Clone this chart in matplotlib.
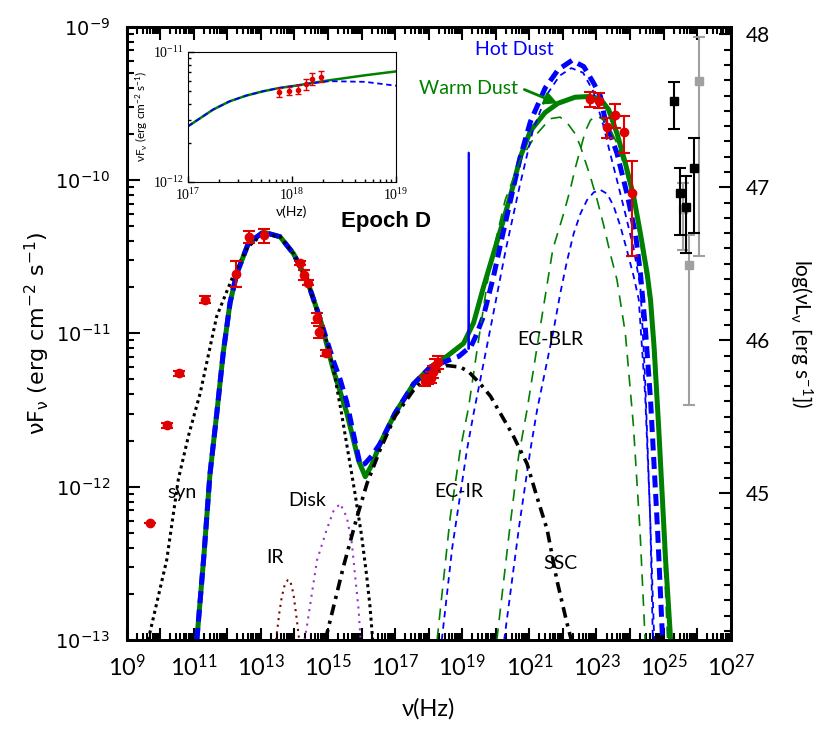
import numpy as np
import matplotlib.pyplot as plt
from matplotlib.ticker import FixedLocator, FixedFormatter, LogLocator, NullFormatter, MultipleLocator

plt.rcParams['font.family'] = ['Lato', 'DejaVu Sans']
plt.rcParams['mathtext.default'] = 'regular'

# all curves as log10(nu [Hz]) / log10(nuFnu [erg cm^-2 s^-1])
syn_nu = [9.64, 10.19, 10.54, 10.85, 11.19, 11.68, 12.18, 12.6, 13.07, 13.57, 13.97, 14.37, 14.77,
          15.0, 15.2, 15.4, 15.6, 15.8, 16.0, 16.15, 16.25, 16.33]
syn_f = [-13.0, -12.48, -11.95, -11.66, -11.39, -10.89, -10.62, -10.44, -10.35, -10.37, -10.48, -10.65, -10.92,
         -11.08, -11.28, -11.52, -11.78, -12.04, -12.32, -12.58, -12.78, -13.0]

ir_nu = [13.45, 13.55, 13.62, 13.72, 13.8, 13.87, 13.97, 14.07, 14.14]
ir_f = [-13.0, -12.82, -12.72, -12.63, -12.61, -12.61, -12.70, -12.87, -13.0]

disk_nu = [14.3, 14.37, 14.67, 14.96, 15.16, 15.36, 15.56, 15.71, 15.81, 15.91, 15.97]
disk_f = [-13.0, -12.91, -12.48, -12.28, -12.16, -12.11, -12.20, -12.37, -12.59, -12.80, -13.0]

ssc_nu = [14.92, 15.46, 15.86, 16.16, 16.55, 17.0, 17.55, 18.05, 18.54, 18.94, 19.19, 19.54, 19.84,
          20.13, 20.5, 20.93, 21.23, 21.53, 21.82, 22.12, 22.25]
ssc_f = [-13.0, -12.52, -12.20, -11.98, -11.76, -11.54, -11.37, -11.26, -11.21, -11.22, -11.25, -11.33, -11.41,
         -11.52, -11.66, -11.85, -12.07, -12.28, -12.61, -12.89, -13.0]

# external Compton, warm dust model (green) and hot dust model (blue)
ecir_w_nu = [18.25, 18.64, 18.94, 19.19, 19.44, 19.83, 20.28, 20.73, 21.18, 21.62, 21.92, 22.17, 22.37, 22.52,
             22.82, 23.02, 23.22, 23.41, 23.61, 23.86, 24.1, 24.3, 24.45]
ecir_w_f = [-13.0, -12.20, -11.76, -11.48, -11.11, -10.55, -10.13, -9.87, -9.71, -9.60, -9.59, -9.64, -9.70, -9.78,
            -9.98, -10.13, -10.30, -10.48, -10.65, -11.0, -11.6, -12.3, -13.0]
ecblr_w_nu = [20.03, 20.4, 20.68, 20.93, 21.33, 21.7, 22.02, 22.22, 22.37, 22.52, 22.67, 22.82, 23.0, 23.3,
              23.61, 23.86, 24.11, 24.31, 24.51, 24.61, 24.85, 25.0, 25.12]
ecblr_w_f = [-13.0, -12.3, -11.8, -11.5, -10.95, -10.45, -10.22, -10.06, -9.92, -9.80, -9.68, -9.61, -9.58, -9.62,
             -9.76, -9.93, -10.15, -10.40, -10.68, -10.85, -11.7, -12.4, -13.0]
ecir_h_nu = [18.39, 18.7, 19.14, 19.34, 19.54, 19.9, 20.3, 20.7, 21.1, 21.5, 21.9, 22.25, 22.6, 22.9, 23.2,
             23.4, 23.61, 23.86, 24.11, 24.31, 24.45, 24.6, 24.68]
ecir_h_f = [-13.0, -12.4, -11.76, -11.52, -11.30, -10.90, -10.45, -10.05, -9.68, -9.45, -9.32, -9.27, -9.30, -9.42,
            -9.64, -9.82, -10.0, -10.22, -10.45, -10.7, -11.3, -12.2, -13.0]
ecblr_h_nu = [20.25, 20.7, 21.03, 21.23, 21.72, 21.92, 22.12, 22.32, 22.52, 22.72, 22.92, 23.12, 23.32, 23.51,
              23.71, 23.91, 24.11, 24.26, 24.45, 24.6, 24.72]
ecblr_h_f = [-13.0, -12.25, -11.76, -11.50, -10.98, -10.74, -10.53, -10.35, -10.22, -10.13, -10.08, -10.065, -10.09,
             -10.17, -10.30, -10.46, -10.63, -10.78, -11.4, -12.2, -13.0]

# total model, warm dust (green solid)
warm_nu = [11.09, 11.3, 11.48, 11.68, 11.88, 12.08, 12.28, 12.63, 13.07, 13.57, 13.97, 14.37, 14.77, 15.16,
           15.56, 15.91, 16.11, 16.3, 16.55, 17.0, 17.55, 18.05, 18.54, 19.04, 19.34, 19.63, 19.93, 20.23, 20.5,
           20.73, 21.03, 21.47, 21.85, 22.36, 22.8, 23.11, 23.36, 23.61, 23.86, 24.11, 24.31, 24.51, 24.61, 24.72,
           24.85, 25.06, 25.21]
warm_f = [-13.0, -12.45, -11.92, -11.53, -11.12, -10.80, -10.61, -10.41, -10.34, -10.37, -10.48, -10.65,
          -10.91, -11.24, -11.52, -11.83, -11.935, -11.86, -11.72, -11.52, -11.33, -11.22, -11.15, -11.065, -10.93,
          -10.70, -10.48, -10.26, -10.05, -9.85, -9.68, -9.56, -9.50, -9.46, -9.455, -9.47, -9.54, -9.695, -9.89,
          -10.11, -10.35, -10.61, -10.78, -11.10, -11.60, -12.48, -13.0]

# total model, hot dust (blue dashed)
hot_nu = [11.09, 11.3, 11.48, 11.68, 11.88, 12.08, 12.28, 12.63, 13.07, 13.57, 13.97, 14.37, 14.77, 15.0,
          15.16, 15.36, 15.56, 15.8, 15.96, 16.1, 16.3, 16.55, 17.0, 17.55, 18.05, 18.54, 18.9, 19.17, 19.25, 19.4,
          19.63, 19.93, 20.18, 20.44, 20.73, 21.03, 21.47, 21.86, 22.27, 22.62, 22.92, 23.12, 23.26, 23.61, 23.91,
          24.16, 24.31, 24.45, 24.61, 24.82, 24.97]
hot_f = [-13.0, -12.45, -11.92, -11.53, -11.12, -10.80, -10.61, -10.41, -10.34, -10.37, -10.48, -10.65,
         -10.91, -11.07, -11.18, -11.30, -11.45, -11.70, -11.86, -11.85, -11.80, -11.72, -11.52, -11.33, -11.22,
         -11.18, -11.15, -11.10, -11.09, -11.02, -10.89, -10.63, -10.38, -10.13, -9.85, -9.62, -9.40, -9.28, -9.22,
         -9.26, -9.37, -9.455, -9.61, -9.825, -10.09, -10.35, -10.61, -10.95, -11.43, -12.28, -13.0]

spike_nu = [19.175, 19.19, 19.205]
spike_f = [-11.10, -9.82, -11.10]

# observed points: log nu, log nuFnu, lower / upper error (dex)
opt_nu = [9.70, 10.19, 10.56, 11.34, 12.26, 12.65, 13.09, 14.15, 14.27, 14.39, 14.68, 14.74, 14.93]
opt_f = [-12.235, -11.60, -11.26, -10.78, -10.61, -10.37, -10.36, -10.54, -10.62, -10.67, -10.90, -10.99, -11.13]
opt_lo = [0.0, 0.015, 0.015, 0.025, 0.09, 0.04, 0.05, 0.015, 0.03, 0.015, 0.035, 0.04, 0.02]
opt_hi = [0.0, 0.015, 0.015, 0.025, 0.08, 0.04, 0.04, 0.015, 0.03, 0.015, 0.035, 0.04, 0.02]

xray_nu = [17.875, 17.97, 18.06, 18.13, 18.19, 18.28]
xray_f = [-11.31, -11.30, -11.29, -11.25, -11.21, -11.19]
xray_err = [0.035, 0.03, 0.035, 0.04, 0.045, 0.045]

lat_nu = [22.80, 23.07, 23.32, 23.56, 23.81, 24.06]
lat_f = [-9.473, -9.482, -9.656, -9.577, -9.684, -10.082]
lat_lo = [0.05, 0.05, 0.069, 0.083, 0.139, 0.413]
lat_hi = [0.05, 0.05, 0.061, 0.073, 0.102, 0.207]

tev_nu = [25.30, 25.50, 25.68, 25.90]
tev_f = [-9.486, -10.086, -10.173, -9.923]
tev_lo = [0.183, 0.272, 0.303, 0.422]
tev_hi = [0.128, 0.165, 0.200, 0.198]

tev2_nu = [25.57, 25.75, 26.07]
tev2_f = [-10.19, -10.554, -9.354]
tev2_lo = [0.266, 0.913, 1.141]
tev2_hi = [0.171, 0.196, 0.286]

# inset (X-ray zoom)
ins_nu = [17.0, 17.24, 17.40, 17.56, 17.72, 17.88, 18.04, 18.20, 18.36, 18.7, 19.0]
ins_warm = [-11.572, -11.444, -11.38, -11.336, -11.303, -11.277, -11.259, -11.238, -11.218, -11.18, -11.15]
ins_hot = [-11.572, -11.444, -11.38, -11.336, -11.303, -11.277, -11.259, -11.24, -11.225, -11.23, -11.26]


def lin(a):
    return 10 ** np.asarray(a, dtype=float)


def errs(f, lo, hi):
    f = np.asarray(f)
    return [lin(f) - lin(f - np.asarray(lo)), lin(f + np.asarray(hi)) - lin(f)]


fig = plt.figure(figsize=(8.37, 7.31), dpi=100)
ax = fig.add_axes([0.1514, 0.1245, 0.7216, 0.839])
ax.set_xscale('log')
ax.set_yscale('log')

green = '#008000'
blue = '#0000ff'

# totals
ax.plot(lin(warm_nu), lin(warm_f), color=green, lw=3.6, solid_capstyle='butt', solid_joinstyle='round', zorder=3)
ax.plot(lin(hot_nu), lin(hot_f), color=blue, lw=3.6, dashes=(2.4, 1.3), zorder=4)
ax.plot(lin(spike_nu), lin(spike_f), color=blue, lw=1.2, zorder=4)

# components
ax.plot(lin(ecir_w_nu), lin(ecir_w_f), color=green, lw=1.2, dashes=(7, 5), zorder=5)
ax.plot(lin(ecblr_w_nu), lin(ecblr_w_f), color=green, lw=1.2, dashes=(7, 5), zorder=5)
ax.plot(lin(ecir_h_nu), lin(ecir_h_f), color=blue, lw=1.3, dashes=(3.5, 2.8), zorder=5)
ax.plot(lin(ecblr_h_nu), lin(ecblr_h_f), color=blue, lw=1.3, dashes=(3.5, 2.8), zorder=5)
ax.plot(lin(ir_nu), lin(ir_f), color='#800000', lw=1.5, dashes=(1, 2.2), zorder=5)
ax.plot(lin(disk_nu), lin(disk_f), color='#9932cc', lw=1.5, dashes=(1, 2.5), zorder=5)
ax.plot(lin(syn_nu), lin(syn_f), color='black', lw=2.2, dashes=(1, 1.2), zorder=6)
ax.plot(lin(ssc_nu), lin(ssc_f), color='black', lw=2.6, dashes=(3, 1.6, 0.9, 1.6), zorder=6)

# data
ekw = dict(fmt='o', color='#e00000', ms=6, elinewidth=1.5, capsize=4, capthick=1.5, zorder=8)
ax.errorbar(lin(opt_nu), lin(opt_f), yerr=errs(opt_f, opt_lo, opt_hi), **ekw)
ax.errorbar(lin(xray_nu), lin(xray_f), yerr=errs(xray_f, xray_err, xray_err), **ekw)
ax.errorbar(lin(lat_nu), lin(lat_f), yerr=errs(lat_f, lat_lo, lat_hi), **ekw)
ax.errorbar(lin(tev_nu), lin(tev_f), yerr=errs(tev_f, tev_lo, tev_hi), fmt='s', color='black', ms=6,
            elinewidth=1.5, capsize=4, capthick=1.5, zorder=8)
ax.errorbar(lin(tev2_nu), lin(tev2_f), yerr=errs(tev2_f, tev2_lo, tev2_hi), fmt='s', color='#a0a0a0', ms=6,
            elinewidth=1.5, capsize=4, capthick=1.5, zorder=7)

ax.set_xlim(1e9, 1e27)
ax.set_ylim(1e-13, 1e-9)

# axis ticks
xdec = list(range(9, 28))
ax.xaxis.set_major_locator(FixedLocator([10.0 ** d for d in xdec]))
ax.xaxis.set_major_formatter(FixedFormatter(
    [r'$\mathregular{10^{%d}}$' % d if d % 2 == 1 else '' for d in xdec]))
ax.xaxis.set_minor_locator(LogLocator(base=10, subs=np.arange(2, 10), numticks=40))
ax.xaxis.set_minor_formatter(NullFormatter())
ydec = [-13, -12, -11, -10, -9]
ax.yaxis.set_major_locator(FixedLocator([10.0 ** d for d in ydec]))
ax.yaxis.set_major_formatter(FixedFormatter([r'$\mathregular{10^{%d}}$' % d for d in ydec]))
ax.yaxis.set_minor_locator(LogLocator(base=10, subs=np.arange(2, 10), numticks=20))
ax.yaxis.set_minor_formatter(NullFormatter())
ax.tick_params(which='both', direction='in', top=True, right=False, width=1.5)
ax.tick_params(which='major', length=9)
ax.tick_params(which='minor', length=5)
ax.tick_params(axis='x', labelsize=17, pad=10)
ax.tick_params(axis='y', labelsize=14, labelfontfamily='DejaVu Sans', pad=12)
for s in ax.spines.values():
    s.set_linewidth(2)

ax.set_xlabel('ν(Hz)', fontsize=17, labelpad=13)
ax.set_ylabel(r'νF$_{\mathregular{ν}}$ (erg cm$^{\mathregular{-2}}$ s$^{\mathregular{-1}}$)',
              fontsize=16, family='DejaVu Sans', labelpad=2)

# luminosity axis
ax2 = ax.twinx()
ax2.set_ylim(44.04, 48.05)
ax2.yaxis.set_major_locator(MultipleLocator(1))
ax2.yaxis.set_minor_locator(MultipleLocator(0.1))
ax2.tick_params(which='both', direction='in', width=1.5, labelsize=15, pad=11)
ax2.tick_params(which='major', length=9)
ax2.tick_params(which='minor', length=5)
ax2.set_ylabel(r'log(νL$_{\mathregular{ν}}$ [erg s$^{\mathregular{-1}}$])', fontsize=15,
               rotation=270, labelpad=32)
for s in ax2.spines.values():
    s.set_linewidth(2)

# labels
tkw = dict(fontsize=14, ha='center', va='center', zorder=9)
ax.text(10 ** 10.64, 10 ** -12.04, 'syn', **tkw)
ax.text(10 ** 13.42, 10 ** -12.46, 'IR', **tkw)
ax.text(10 ** 14.37, 10 ** -12.09, 'Disk', **tkw)
ax.text(10 ** 18.89, 10 ** -12.03, 'EC-IR', **tkw)
ax.text(10 ** 21.92, 10 ** -12.50, 'SSC', **tkw)
ax.text(10 ** 21.62, 10 ** -11.04, 'EC-BLR', **tkw)
ax.text(10 ** 16.73, 10 ** -10.27, 'Epoch D', fontsize=16, fontweight='bold', family='Liberation Sans',
        ha='center', va='center')
ax.text(10 ** 20.55, 10 ** -9.15, 'Hot Dust', color=blue, **tkw)
ax.text(10 ** 19.2, 10 ** -9.40, 'Warm Dust', color=green, **tkw)
ax.annotate('', xy=(10 ** 21.84, 10 ** -9.50), xytext=(10 ** 20.85, 10 ** -9.41),
            arrowprops=dict(arrowstyle='-|>', color=green, lw=2, mutation_scale=18, shrinkA=0, shrinkB=0),
            zorder=9)

# inset
axi = fig.add_axes([0.2246, 0.751, 0.2485, 0.178])
axi.set_xscale('log')
axi.set_yscale('log')
axi.plot(lin(ins_nu), lin(ins_warm), color=green, lw=1.8)
axi.plot(lin(ins_nu), lin(ins_hot), color=blue, lw=1.3, dashes=(3, 2))
axi.errorbar(lin(xray_nu), lin(xray_f), yerr=errs(xray_f, xray_err, xray_err), fmt='o', color='#e00000',
             ms=3, elinewidth=1, capsize=2.5, capthick=1)
axi.set_xlim(1e17, 1e19)
axi.set_ylim(1e-12, 1e-11)
axi.xaxis.set_major_locator(FixedLocator([1e17, 1e18, 1e19]))
axi.xaxis.set_major_formatter(FixedFormatter([r'$\mathregular{10^{17}}$', r'$\mathregular{10^{18}}$',
                                               r'$\mathregular{10^{19}}$']))
axi.xaxis.set_minor_formatter(NullFormatter())
axi.yaxis.set_major_locator(FixedLocator([1e-12, 1e-11]))
axi.yaxis.set_major_formatter(FixedFormatter([r'$\mathregular{10^{-12}}$', r'$\mathregular{10^{-11}}$']))
axi.yaxis.set_minor_formatter(NullFormatter())
axi.tick_params(which='both', direction='in', labelsize=10, labelfontfamily='Liberation Serif', width=1)
axi.tick_params(which='major', length=4)
axi.tick_params(which='minor', length=2.5)
axi.set_xlabel('ν(Hz)', fontsize=10, labelpad=2)
axi.set_ylabel(r'νF$_{\mathregular{ν}}$ (erg cm$^{\mathregular{-2}}$ s$^{\mathregular{-1}}$)', fontsize=8.5,
               labelpad=2)

fig.savefig('out.png', dpi=100)
